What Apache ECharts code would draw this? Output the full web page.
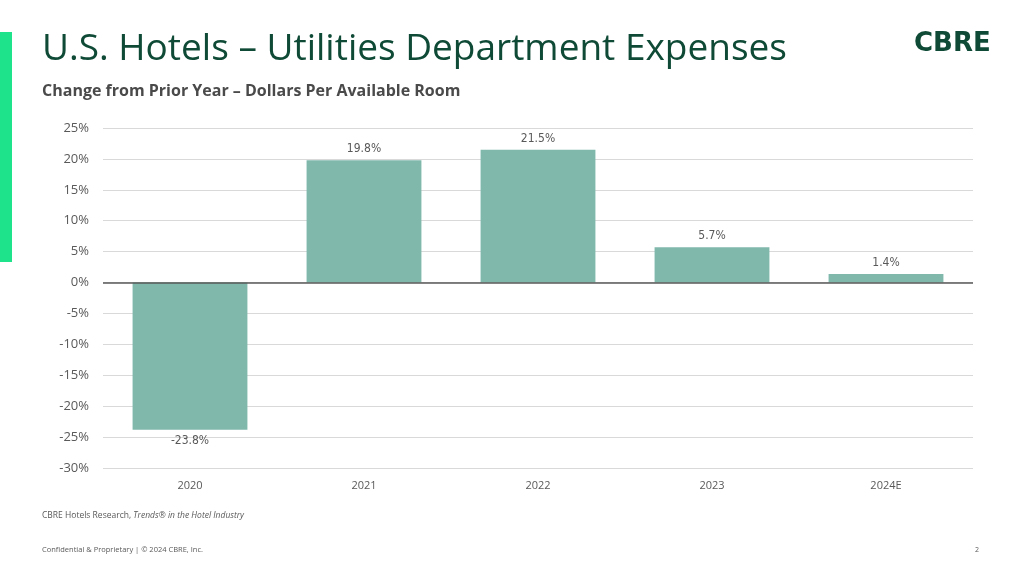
<!DOCTYPE html>
<html>
<head>
<meta charset="utf-8">
<script src="https://cdn.jsdelivr.net/npm/echarts@6/dist/echarts.min.js"></script>
<style>html,body{margin:0;padding:0;background:#fff}#c{width:1024px;height:576px}</style>
</head>
<body>
<div id="c"></div>
<script>
const categories = ['2020', '2021', '2022', '2023', '2024E'];
const values = [-23.8, 19.8, 21.5, 5.7, 1.4];
const yTicks = [-30, -25, -20, -15, -10, -5, 0, 5, 10, 15, 20, 25];

const chart = echarts.init(document.getElementById('c'), null, {renderer: 'canvas'});
chart.setOption({
  animation: false,
  backgroundColor: '#ffffff',
  grid: {left: 103, right: 51, top: 128, bottom: 108},
  xAxis: {
    type: 'category',
    data: categories,
    axisLine: {show: false},
    axisTick: {show: false},
    axisLabel: {color: '#595959', fontSize: 11, fontFamily: 'Open Sans', margin: 12}
  },
  yAxis: {
    type: 'value',
    min: yTicks[0],
    max: yTicks[yTicks.length - 1],
    interval: 5,
    axisLine: {show: false},
    axisTick: {show: false},
    axisLabel: {color: '#595959', fontSize: 13, fontFamily: 'Open Sans', margin: 14, formatter: v => v + '%'},
    splitLine: {lineStyle: {color: '#d9d9d9', width: 1}}
  },
  series: [{
    type: 'bar',
    data: values,
    barWidth: '66%',
    itemStyle: {color: '#80b9ac'},
    label: {
      show: true,
      position: 'outside',
      formatter: p => p.value.toFixed(1) + '%',
      color: '#595959',
      fontSize: 12,
      fontFamily: 'Liberation Sans Narrow, DejaVu Sans Condensed, sans-serif',
      distance: 5
    },
    markLine: {
      silent: true,
      symbol: 'none',
      label: {show: false},
      lineStyle: {color: '#595959', type: 'solid', width: 1.5},
      data: [{yAxis: 0}]
    }
  }],
  graphic: [
    {type: 'rect', left: 0, top: 32, shape: {width: 12, height: 230}, style: {fill: '#1ee38b'}},
    {type: 'text', left: 42, top: 31, style: {text: 'U.S. Hotels – Utilities Department Expenses', fill: '#0f4a36', font: '37px "Open Sans"'}},
    {type: 'text', left: 42, top: 83, style: {text: 'Change from Prior Year – Dollars Per Available Room', fill: '#4a4a4a', font: 'bold 16px "Open Sans"'}},
    {type: 'text', left: 914, top: 31, style: {text: 'CBRE', fill: '#0f4a36', font: 'bold 26px "DejaVu Sans"'}},
    {type: 'text', left: 42, top: 511, style: {rich: {a: {fill: '#595959', font: '8.5px "Open Sans"'}, b: {fill: '#595959', font: 'italic 8.5px "Open Sans"'}}, text: '{a|CBRE Hotels Research, }{b|Trends® in the Hotel Industry}'}},
    {type: 'text', left: 42, top: 546, style: {text: 'Confidential & Proprietary | © 2024 CBRE, Inc.', fill: '#595959', font: '7.5px "Open Sans"'}},
    {type: 'text', left: 975, top: 546, style: {text: '2', fill: '#595959', font: '7px "Open Sans"'}}
  ]
});
</script>
</body>
</html>
